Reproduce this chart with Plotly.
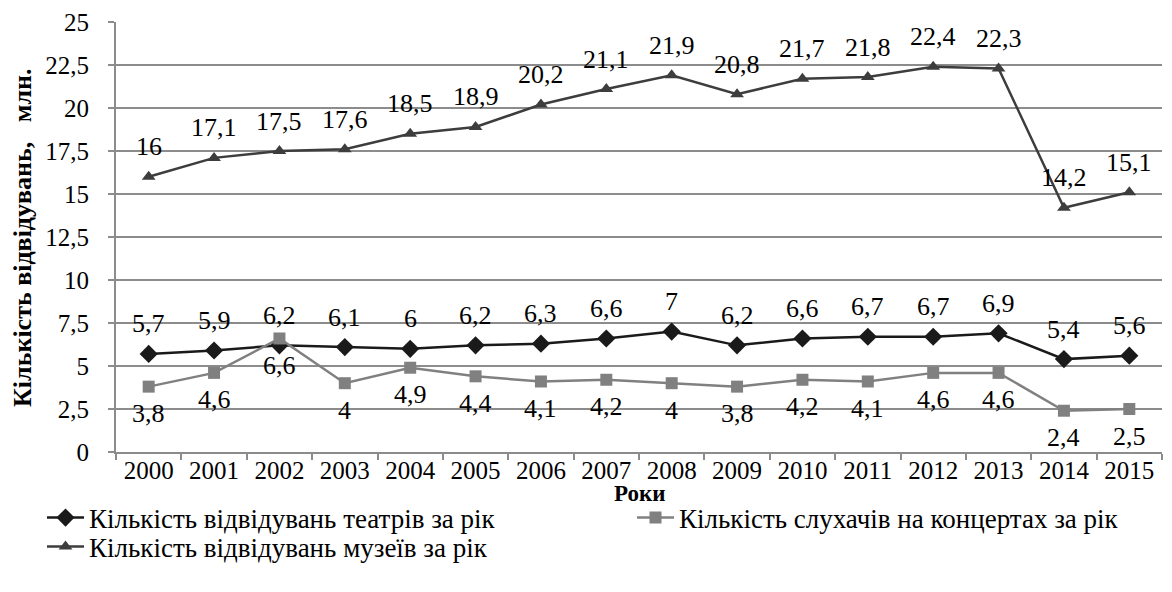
import plotly.graph_objects as go

years = [str(y) for y in range(2000, 2016)]
theatres = [5.7, 5.9, 6.2, 6.1, 6.0, 6.2, 6.3, 6.6, 7.0, 6.2, 6.6, 6.7, 6.7, 6.9, 5.4, 5.6]
concerts = [3.8, 4.6, 6.6, 4.0, 4.9, 4.4, 4.1, 4.2, 4.0, 3.8, 4.2, 4.1, 4.6, 4.6, 2.4, 2.5]
museums = [16.0, 17.1, 17.5, 17.6, 18.5, 18.9, 20.2, 21.1, 21.9, 20.8, 21.7, 21.8, 22.4, 22.3, 14.2, 15.1]

name_theatres = "Кількість відвідувань театрів за рік"
name_concerts = "Кількість слухачів на концертах за рік"
name_museums = "Кількість відвідувань музеїв за рік"
x_title = "Роки"
y_title = "Кількість відвідувань,\u00a0\u00a0\u00a0млн."

FONT = "Liberation Serif"
GRID = "#8c8c8c"
W, H = 1172, 592
M_L, M_R, M_T, M_B = 116, 10, 22, 140
PLOT_W, PLOT_H = W - M_L - M_R, H - M_T - M_B


def fmt(v):
    return f"{v:g}".replace(".", ",")


fig = go.Figure()
fig.add_trace(go.Scatter(
    x=years, y=theatres, name=name_theatres, mode="lines+markers", legend="legend",
    line=dict(color="#1a1a1a", width=2.5),
    marker=dict(symbol="diamond", size=14, color="#1a1a1a"),
))
fig.add_trace(go.Scatter(
    x=years, y=concerts, name=name_concerts, mode="lines+markers", legend="legend2",
    line=dict(color="#808080", width=2.5),
    marker=dict(symbol="square", size=12, color="#808080"),
))
fig.add_trace(go.Scatter(
    x=years, y=museums, name=name_museums, mode="lines+markers", legend="legend3",
    line=dict(color="#3d3d3d", width=2.5),
    marker=dict(symbol="triangle-up", size=12, color="#3d3d3d"),
))

# value labels: above the theatre and museum lines, below the concert line
# (x is the category index on the category axis)
annotations = []
for series, shift in ((theatres, 30), (museums, 30), (concerts, -27)):
    for i, v in enumerate(series):
        annotations.append(dict(
            x=i, y=v, xref="x", yref="y", text=fmt(v), showarrow=False,
            yshift=shift, font=dict(family=FONT, size=26, color="#000"),
        ))

# axis titles
annotations.append(dict(
    x=0.5, y=(M_T + PLOT_H - 493) / PLOT_H + M_T / PLOT_H * 0, xref="paper", yref="paper",
    text=f"<b>{x_title}</b>", showarrow=False, xanchor="center", yanchor="middle",
    font=dict(family=FONT, size=23, color="#000"),
))
annotations.append(dict(
    x=(22 - M_L) / PLOT_W, y=(M_T + PLOT_H - 238) / PLOT_H, xref="paper", yref="paper",
    text=f"<b>{y_title}</b>", showarrow=False, textangle=-90,
    xanchor="center", yanchor="middle",
    font=dict(family=FONT, size=26, color="#000"),
))


def legend_at(px, py):
    return dict(
        x=px / W, y=1 - py / H, xref="container", yref="container",
        xanchor="left", yanchor="middle", bgcolor="rgba(0,0,0,0)",
        font=dict(family=FONT, size=27, color="#000"), itemwidth=37,
    )


fig.update_layout(
    width=W, height=H,
    margin=dict(l=M_L, r=M_R, t=M_T, b=M_B, autoexpand=False),
    paper_bgcolor="white", plot_bgcolor="white",
    separators=", ",
    font=dict(family=FONT, size=25, color="#000"),
    annotations=annotations,
    showlegend=True,
    legend=legend_at(42, 518),
    legend2=legend_at(632, 518),
    legend3=legend_at(42, 547),
)

fig.update_xaxes(
    type="category", range=[-0.5, 15.5], tickson="boundaries",
    ticks="outside", ticklen=6, tickcolor=GRID, tickwidth=2,
    showline=True, linecolor=GRID, linewidth=2, tickangle=0,
    showgrid=False, tickfont=dict(family=FONT, size=25), ticklabelstandoff=-5,
)
fig.update_yaxes(
    range=[0, 25], dtick=2.5, tick0=0,
    ticks="outside", ticklen=6, tickcolor=GRID, tickwidth=2,
    showline=True, linecolor=GRID, linewidth=2,
    showgrid=True, gridcolor=GRID, gridwidth=2,
    zeroline=False, tickfont=dict(family=FONT, size=25), ticklabelstandoff=14,
)

fig.write_html("out.html")
